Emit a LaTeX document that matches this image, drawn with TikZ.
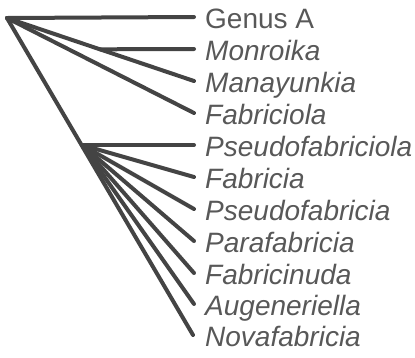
\documentclass[tikz,border=0pt]{standalone}
\usepackage{fontspec}
\setmainfont{Liberation Sans}
\definecolor{branch}{HTML}{444444}
\definecolor{lab}{HTML}{585858}
\begin{document}
\begin{tikzpicture}[x=1pt,y=-1pt,
  br/.style={draw=branch,line width=4pt,line cap=round},
  tx/.style={anchor=base west,inner sep=0pt,text=lab,font=\fontsize{28}{30}\selectfont}]
\useasboundingbox (0,0) rectangle (415,357);
\coordinate (root) at (7,18);
\coordinate (tA) at (194,17);
\coordinate (t1) at (194,49);
\coordinate (t2) at (194,81);
\coordinate (t3) at (194,113);
\coordinate (t4) at (194,145);
\coordinate (t5) at (194,177);
\coordinate (t6) at (194,209);
\coordinate (t7) at (194,241);
\coordinate (t8) at (194,273);
\coordinate (t9) at (194,304);
\coordinate (t10) at (193,335);
\coordinate (m) at (100,49.3);
\coordinate (c) at (82,145);
\path[br] (root) -- (tA);
\path[br] (root) -- (t2);
\path[br] (m) -- (t1);
\path[br] (root) -- (t3);
\path[br] (root) -- (t10);
\path[br] (c) -- (t4);
\foreach \i in {5,...,9} {\path[br] (c) -- (t\i);}
\node[tx] (lA) at (205,28) {Genus A};
\node[tx] (l1) at (205,60) {\itshape Monroika};
\node[tx] (l2) at (205,92) {\itshape Manayunkia};
\node[tx] (l3) at (205,124) {\itshape Fabriciola};
\node[tx] (l4) at (205,156) {\itshape Pseudofabriciola};
\node[tx] (l5) at (205,188) {\itshape Fabricia};
\node[tx] (l6) at (205,220) {\itshape Pseudofabricia};
\node[tx] (l7) at (205,252) {\itshape Parafabricia};
\node[tx] (l8) at (205,284) {\itshape Fabricinuda};
\node[tx] (l9) at (205,315) {\itshape Augeneriella};
\node[tx] (l10) at (205,346) {\itshape Novafabricia};
\end{tikzpicture}
\end{document}
